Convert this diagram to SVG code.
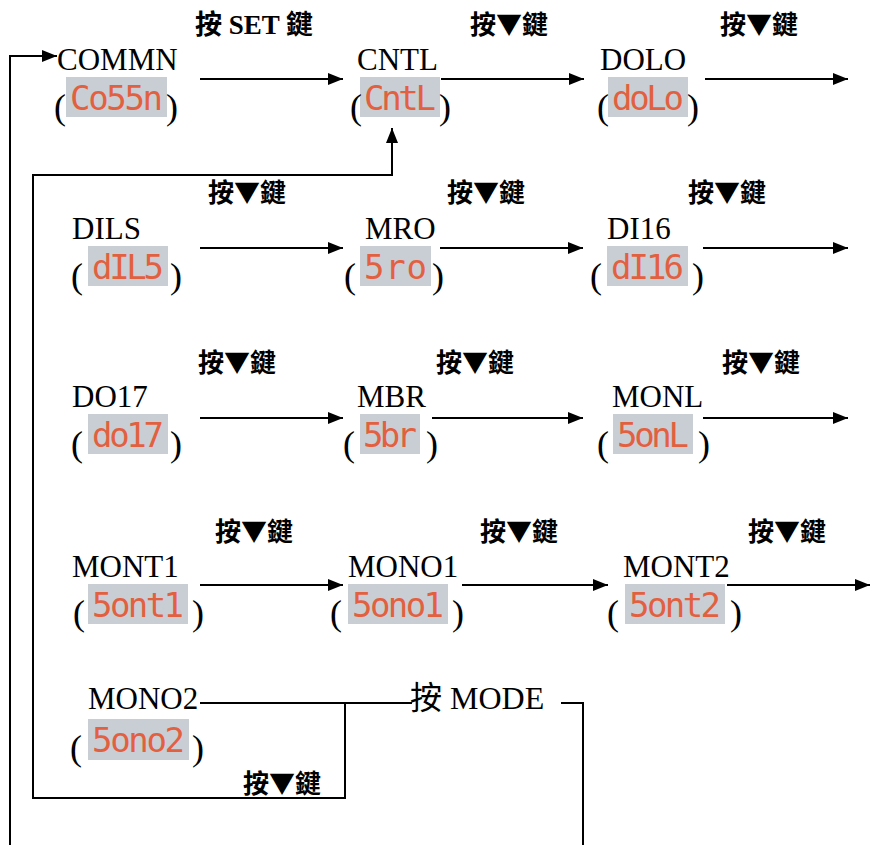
<svg xmlns="http://www.w3.org/2000/svg" width="872" height="845" viewBox="0 0 872 845">
<defs>
<style>
.lbl{font-family:"Liberation Serif","Times New Roman",serif;font-size:31px;fill:#000}
.par{font-family:"Liberation Serif","Times New Roman",serif;font-size:36px;fill:#000}
.key{font-family:"Noto Sans CJK TC","Noto Sans CJK SC",sans-serif;font-weight:700;font-size:26px;fill:#000}
.keyset{font-family:"Liberation Serif","Noto Sans CJK TC",serif;font-weight:700;font-size:27px;fill:#000}
.mode{font-family:"Liberation Serif","Noto Sans CJK TC",serif;font-size:32px;fill:#000}
.lcd{fill:#c9ced5}
.seg{font-family:"DejaVu Sans Mono",monospace;font-size:34px;fill:#e2603f}
.conn{stroke:#000;stroke-width:2;fill:none}
</style>
<marker id="ah" markerUnits="userSpaceOnUse" markerWidth="15" markerHeight="12" refX="15" refY="6" orient="auto">
<path d="M0,0 L15,6 L0,12 z" fill="#000"/>
</marker>
</defs>
<rect width="872" height="845" fill="#fff"/>

<g id="connectors">
<line class="conn" x1="200" y1="79" x2="343" y2="79" marker-end="url(#ah)"/>
<line class="conn" x1="441" y1="79" x2="584" y2="79" marker-end="url(#ah)"/>
<line class="conn" x1="705" y1="79" x2="848" y2="79" marker-end="url(#ah)"/>
<line class="conn" x1="200" y1="248" x2="343" y2="248" marker-end="url(#ah)"/>
<line class="conn" x1="440" y1="248" x2="583" y2="248" marker-end="url(#ah)"/>
<line class="conn" x1="703" y1="248" x2="848" y2="248" marker-end="url(#ah)"/>
<line class="conn" x1="200" y1="418" x2="343" y2="418" marker-end="url(#ah)"/>
<line class="conn" x1="432" y1="418" x2="583" y2="418" marker-end="url(#ah)"/>
<line class="conn" x1="703" y1="418" x2="848" y2="418" marker-end="url(#ah)"/>
<line class="conn" x1="200" y1="585" x2="343" y2="585" marker-end="url(#ah)"/>
<line class="conn" x1="462" y1="585" x2="608" y2="585" marker-end="url(#ah)"/>
<line class="conn" x1="727" y1="585" x2="870" y2="585" marker-end="url(#ah)"/>
<polyline class="conn" points="10,845 10,56 57,56" marker-end="url(#ah)"/>
<polyline class="conn" points="345,703 345,798 33,798 33,175 392,175 392,128" marker-end="url(#ah)"/>
<line class="conn" x1="200" y1="703" x2="412" y2="703"/>
<polyline class="conn" points="561,703 583,703 583,845"/>
</g>

<g id="labels">
<text class="keyset" x="195" y="34">按 SET 鍵</text>
<text class="key" x="470" y="34">按▼鍵</text>
<text class="key" x="720" y="34">按▼鍵</text>
<text class="key" x="208" y="202">按▼鍵</text>
<text class="key" x="447" y="202">按▼鍵</text>
<text class="key" x="688" y="202">按▼鍵</text>
<text class="key" x="198" y="372">按▼鍵</text>
<text class="key" x="436" y="372">按▼鍵</text>
<text class="key" x="722" y="372">按▼鍵</text>
<text class="key" x="215" y="541">按▼鍵</text>
<text class="key" x="480" y="541">按▼鍵</text>
<text class="key" x="748" y="541">按▼鍵</text>
<text class="key" x="243" y="793">按▼鍵</text>
<text class="mode" x="410" y="709">按 MODE</text>
</g>

<g id="commn">
<text class="lbl" x="57" y="70">COMMN</text>
<rect class="lcd" x="66" y="77" width="101" height="40"/>
<text class="seg" x="70" y="110" textLength="93" lengthAdjust="spacing">Co55n</text>
<text class="par" x="54" y="119">(</text><text class="par" x="166" y="119">)</text>
</g>
<g id="cntl">
<text class="lbl" x="357" y="70">CNTL</text>
<rect class="lcd" x="360" y="77" width="80" height="40"/>
<text class="seg" x="364" y="110" textLength="72" lengthAdjust="spacing">CntL</text>
<text class="par" x="350" y="119">(</text><text class="par" x="439" y="119">)</text>
</g>
<g id="dolo">
<text class="lbl" x="600" y="70">DOLO</text>
<rect class="lcd" x="608" y="77" width="80" height="40"/>
<text class="seg" x="612" y="110" textLength="72" lengthAdjust="spacing">doLo</text>
<text class="par" x="597" y="119">(</text><text class="par" x="687" y="119">)</text>
</g>

<g id="dils">
<text class="lbl" x="72" y="239">DILS</text>
<rect class="lcd" x="88" y="246" width="80" height="40"/>
<text class="seg" x="92" y="279" textLength="72" lengthAdjust="spacing">dIL5</text>
<text class="par" x="71" y="288">(</text><text class="par" x="170" y="288">)</text>
</g>
<g id="mro">
<text class="lbl" x="365" y="239">MRO</text>
<rect class="lcd" x="360" y="246" width="71" height="40"/>
<text class="seg" x="364" y="279" textLength="63" lengthAdjust="spacing">5ro</text>
<text class="par" x="344" y="288">(</text><text class="par" x="432" y="288">)</text>
</g>
<g id="di16">
<text class="lbl" x="607" y="239">DI16</text>
<rect class="lcd" x="607" y="246" width="81" height="40"/>
<text class="seg" x="611" y="279" textLength="73" lengthAdjust="spacing">dI16</text>
<text class="par" x="590" y="288">(</text><text class="par" x="692" y="288">)</text>
</g>

<g id="do17">
<text class="lbl" x="72" y="407">DO17</text>
<rect class="lcd" x="88" y="414" width="80" height="40"/>
<text class="seg" x="92" y="447" textLength="72" lengthAdjust="spacing">do17</text>
<text class="par" x="71" y="456">(</text><text class="par" x="170" y="456">)</text>
</g>
<g id="mbr">
<text class="lbl" x="357" y="407">MBR</text>
<rect class="lcd" x="360" y="414" width="60" height="40"/>
<text class="seg" x="363" y="447" textLength="54" lengthAdjust="spacing">5br</text>
<text class="par" x="343" y="456">(</text><text class="par" x="426" y="456">)</text>
</g>
<g id="monl">
<text class="lbl" x="612" y="407">MONL</text>
<rect class="lcd" x="613" y="414" width="80" height="40"/>
<text class="seg" x="617" y="447" textLength="72" lengthAdjust="spacing">5onL</text>
<text class="par" x="597" y="456">(</text><text class="par" x="698" y="456">)</text>
</g>

<g id="mont1">
<text class="lbl" x="72" y="577">MONT1</text>
<rect class="lcd" x="88" y="584" width="100" height="40"/>
<text class="seg" x="92" y="617" textLength="92" lengthAdjust="spacing">5ont1</text>
<text class="par" x="73" y="625">(</text><text class="par" x="192" y="625">)</text>
</g>
<g id="mono1">
<text class="lbl" x="348" y="577">MONO1</text>
<rect class="lcd" x="348" y="584" width="100" height="40"/>
<text class="seg" x="352" y="617" textLength="92" lengthAdjust="spacing">5ono1</text>
<text class="par" x="330" y="625">(</text><text class="par" x="452" y="625">)</text>
</g>
<g id="mont2">
<text class="lbl" x="623" y="577">MONT2</text>
<rect class="lcd" x="625" y="584" width="100" height="40"/>
<text class="seg" x="629" y="617" textLength="92" lengthAdjust="spacing">5ont2</text>
<text class="par" x="607" y="625">(</text><text class="par" x="730" y="625">)</text>
</g>

<g id="mono2">
<text class="lbl" x="88" y="709">MONO2</text>
<rect class="lcd" x="88" y="719" width="101" height="41"/>
<text class="seg" x="92" y="752" textLength="93" lengthAdjust="spacing">5ono2</text>
<text class="par" x="70" y="760">(</text><text class="par" x="192" y="760">)</text>
</g>
</svg>
